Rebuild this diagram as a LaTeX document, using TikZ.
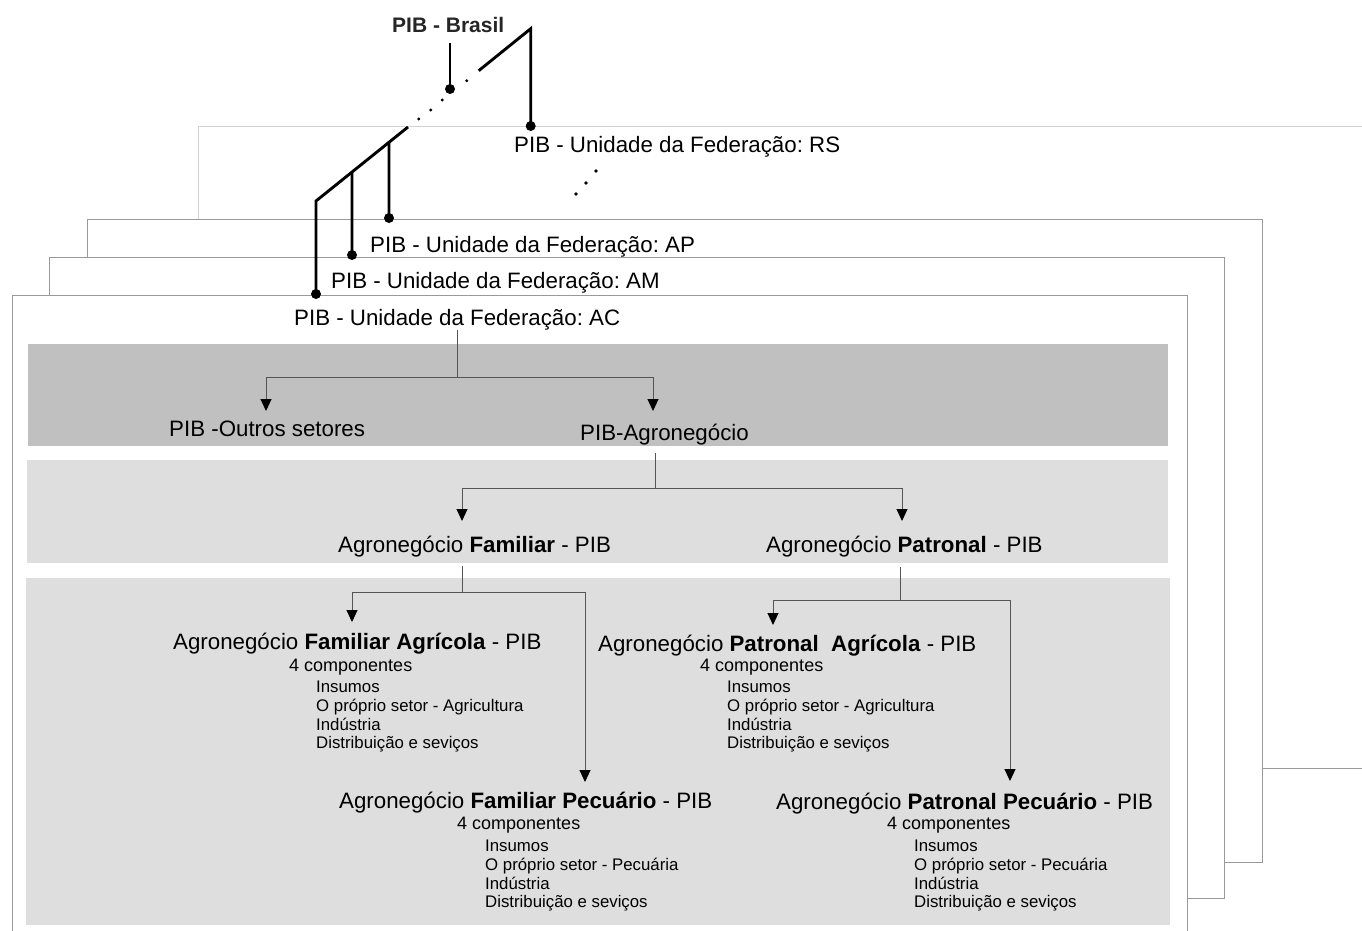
\documentclass[tikz,border=0pt]{standalone}
\usepackage{fontspec}
\setmainfont{Liberation Sans}
\usetikzlibrary{arrows.meta,calc}
\definecolor{bandDark}{HTML}{C0C0C0}
\definecolor{bandLight}{HTML}{DEDEDE}
\definecolor{frameGray}{HTML}{999999}
\definecolor{frameLight}{HTML}{D2D2D2}
\definecolor{connGray}{HTML}{555555}
\begin{document}
\frenchspacing
\begin{tikzpicture}[x=1pt,y=-1pt,
  framebox/.style={draw=frameGray,line width=1pt,fill=white},
  conn/.style={draw=connGray,line width=1pt},
  arr/.style={conn,-{Triangle[width=11pt,length=12pt,color=black]}},
  treeline/.style={draw=black,line width=2.9pt},
  bigdot/.style={fill=black},
  title/.style={font=\frenchspacing\fontsize{22.3}{26}\selectfont,inner sep=0pt,anchor=base west},
  brtitle/.style={font=\bfseries\fontsize{21}{25}\selectfont,inner sep=0pt,anchor=base west},
  comp/.style={font=\fontsize{18}{21}\selectfont,inner sep=0pt,anchor=base west},
  list/.style={font=\fontsize{16.8}{18.7}\selectfont,inner sep=0pt,anchor=north west,align=left}
]
\useasboundingbox (0,0) rectangle (1362,931);
\fill[white] (0,0) rectangle (1362,931);

% stacked frames
\fill[white] (198,127) rectangle (1362,768);
\draw[frameLight,line width=1pt] (1362,127) -- (198,127) -- (198,768);
\draw[frameGray,line width=1pt] (1262,768) -- (1362,768);
\draw[framebox] (87,219) rectangle (1262,862);
\draw[framebox] (49,257) rectangle (1224,898);
\fill[white] (12,295) rectangle (1187,940);
\draw[frameGray,line width=1pt] (12,940) -- (12,295) -- (1187,295) -- (1187,940);

% bands
\fill[bandDark] (28,344) rectangle (1168,446);
\fill[bandLight] (27,460) rectangle (1168,563);
\fill[bandLight] (26,578) rectangle (1170,925);

% texts
\node[brtitle,text=black!85,draw=none] (br) at (392,33) {PIB - Brasil};
\node[title] (rs) at (514,152) {PIB - Unidade da Federação: RS};
\node[title] (ap) at (370,252) {PIB - Unidade da Federação: AP};
\node[title] (am) at (331,288) {PIB - Unidade da Federação: AM};
\node[title] (ac) at (294,325) {PIB - Unidade da Federação: AC};
\node[title] (outros) at (169,436) {PIB -Outros setores};
\node[title] (agro) at (580,440) {PIB-Agronegócio};
\node[title] (fam) at (338,552) {Agronegócio \textbf{Familiar} - PIB};
\node[title] (pat) at (766,552) {Agronegócio \textbf{Patronal} - PIB};

\node[title] (famag) at (173,649) {Agronegócio \textbf{Familiar Agrícola} - PIB};
\node[comp] (famagc) at (289,671) {4 componentes};
\node[list] (famagl) at (316,681) {Insumos\\O próprio setor - Agricultura\\Indústria\\Distribuição e seviços};

\node[title] (patag) at (598,651) {Agronegócio \textbf{Patronal\ \ Agrícola} - PIB};
\node[comp] (patagc) at (700,671) {4 componentes};
\node[list] (patagl) at (727,681) {Insumos\\O próprio setor - Agricultura\\Indústria\\Distribuição e seviços};

\node[title] (fampe) at (339,808) {Agronegócio \textbf{Familiar Pecuário} - PIB};
\node[comp] (fampec) at (457,829) {4 componentes};
\node[list] (fampel) at (485,840) {Insumos\\O próprio setor - Pecuária\\Indústria\\Distribuição e seviços};

\node[title] (patpe) at (776,809) {Agronegócio \textbf{Patronal Pecuário} - PIB};
\node[comp] (patpec) at (887,829) {4 componentes};
\node[list] (patpel) at (914,840) {Insumos\\O próprio setor - Pecuária\\Indústria\\Distribuição e seviços};

% connectors in the bands
\coordinate (s1) at (457,330);
\coordinate (j1) at (457,377);
\coordinate (e1a) at (266,411);
\coordinate (e1b) at (653,411);
\draw[conn] (s1) -- (j1);
\draw[arr] (j1) -| (e1a);
\draw[arr] (j1) -| (e1b);

\coordinate (s2) at (655,453);
\coordinate (j2) at (655,488);
\coordinate (e2a) at (462,521);
\coordinate (e2b) at (902,521);
\draw[conn] (s2) -- (j2);
\draw[arr] (j2) -| (e2a);
\draw[arr] (j2) -| (e2b);

\coordinate (s3) at (462,566);
\coordinate (j3) at (462,592);
\coordinate (e3a) at (352,622);
\coordinate (e3b) at (585,782);
\draw[conn] (s3) -- (j3);
\draw[arr] (j3) -| (e3a);
\draw[arr] (j3) -| (e3b);

\coordinate (s4) at (900,567);
\coordinate (j4) at (900,600);
\coordinate (e4a) at (773,625);
\coordinate (e4b) at (1010,781);
\draw[conn] (s4) -- (j4);
\draw[arr] (j4) -| (e4a);
\draw[arr] (j4) -| (e4b);

% top tree
\coordinate (d0) at (316,201);
\coordinate (d1) at (408,127);
\coordinate (d2) at (478.7,70.7);
\coordinate (d3) at (530.7,28.7);
\coordinate (dap) at ($(d0)!0.793!(d1)$);
\coordinate (dam) at ($(d0)!0.391!(d1)$);
\coordinate (acdot) at (316,294);
\coordinate (amdot) at (352,255);
\coordinate (apdot) at (389,218);
\coordinate (rsdot) at (530.7,126);
\coordinate (brtop) at (450,43);
\coordinate (brdot) at (450,89);

\draw[treeline] (acdot) -- (d0) -- (d1);
\draw[treeline] (d2) -- (d3) -- (rsdot);
\draw[treeline] (dam) -- (amdot);
\draw[treeline] (dap) -- (apdot);
\draw[treeline] (brtop) -- (brdot);
\foreach \p in {acdot,amdot,apdot,rsdot,brdot}
  \fill[bigdot] (\p) circle[radius=5pt];
\foreach \xx/\yy in {418.7/119,430.7/110,442.3/100,466.7/80.7}
  \fill (\xx,\yy) circle[radius=1.6pt];
\foreach \xx/\yy in {576/194,586/183,596/171}
  \fill (\xx,\yy) circle[radius=1.8pt];
\end{tikzpicture}
\end{document}
